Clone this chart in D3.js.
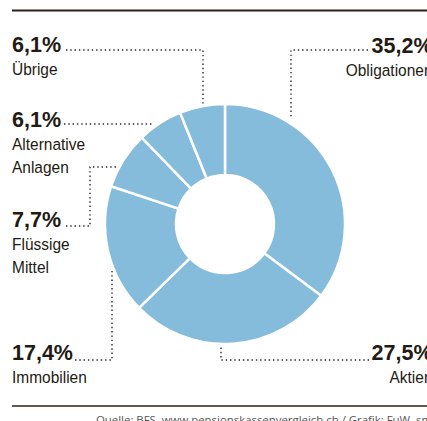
<!DOCTYPE html>
<html>
<head>
<meta charset="utf-8">
<script src="https://cdn.jsdelivr.net/npm/d3@7/dist/d3.min.js"></script>
<style>
  body { margin: 0; background: #fff; }
  svg { display: block; }
  .pct { font-family: "Liberation Sans", Arial, sans-serif; font-weight: bold; font-size: 21.5px; fill: #231a14; }
  .lbl { font-family: "Liberation Sans", Arial, sans-serif; font-size: 17px; fill: #231a14; }
  .leader { fill: none; stroke: #2e251f; stroke-width: 1.4; stroke-dasharray: 1.4,2.9; }
  .src { font-family: "Open Sans", sans-serif; font-size: 11.5px; fill: #555; }
</style>
</head>
<body>
<div id="chart"></div>
<script>
// Anteile in Prozent, im Uhrzeigersinn ab 12 Uhr
var categories = ["Obligationen", "Aktien", "Immobilien", "Flüssige Mittel", "Alternative Anlagen", "Übrige"];
var values = [35.2, 27.5, 17.4, 7.7, 6.1, 6.1];
var labelLines = [["Obligationen"], ["Aktien"], ["Immobilien"], ["Flüssige", "Mittel"], ["Alternative", "Anlagen"], ["Übrige"]];
var source = "Quelle: BFS, www.pensionskassenvergleich.ch / Grafik: FuW, sm";

var width = 427, height = 421;
var cx = 225, cy = 224, outerR = 120, innerR = 49;

// label placement: x, baseline of percentage, anchor, leader polyline
var layout = [
  {x: 432.5, y: 53, anchor: "end", leader: [[368, 50], [291, 50], [291, 118]]},
  {x: 432.5, y: 360, anchor: "end", leader: [[369, 360], [221, 360], [221, 347]]},
  {x: 12, y: 360, anchor: "start", leader: [[75, 360], [112, 360], [112, 271]]},
  {x: 12, y: 227, anchor: "start", leader: [[66, 226], [90, 226], [90, 167], [118, 167]]},
  {x: 12, y: 127, anchor: "start", leader: [[64, 124], [152, 124]]},
  {x: 12, y: 52, anchor: "start", leader: [[66, 50], [203, 50], [203, 104]]}
];

var svg = d3.select("#chart").append("svg")
  .attr("width", width)
  .attr("height", height);

// top and bottom rules
svg.append("line").attr("x1", 12).attr("x2", width).attr("y1", 10.5).attr("y2", 10.5)
  .attr("stroke", "#2a2019").attr("stroke-width", 2.2);
svg.append("line").attr("x1", 12).attr("x2", width).attr("y1", 406).attr("y2", 406)
  .attr("stroke", "#2a2019").attr("stroke-width", 1.3);

var pie = d3.pie().sort(null).value(function(d) { return d; });
var arc = d3.arc().innerRadius(innerR).outerRadius(outerR);

svg.append("g")
  .attr("transform", "translate(" + cx + "," + cy + ")")
  .selectAll("path")
  .data(pie(values))
  .enter().append("path")
  .attr("d", arc)
  .attr("fill", "#85bcdc")
  .attr("stroke", "#fff")
  .attr("stroke-width", 2.5);

var line = d3.line();

layout.forEach(function(p, i) {
  svg.append("path").attr("class", "leader").attr("d", line(p.leader));

  svg.append("text").attr("class", "pct")
    .attr("x", p.x).attr("y", p.y)
    .attr("text-anchor", p.anchor)
    .text(d3.format(".1f")(values[i]).replace(".", ",") + "%");

  // narrower, taller labels like the condensed original
  labelLines[i].forEach(function(t, j) {
    svg.append("text").attr("class", "lbl")
      .attr("transform", "translate(" + p.x + "," + (p.y + 23 + j * 23) + ") scale(0.91,1)")
      .attr("text-anchor", p.anchor)
      .text(t);
  });
});

svg.append("text").attr("class", "src")
  .attr("x", 96).attr("y", 424)
  .attr("textLength", 336)
  .attr("lengthAdjust", "spacingAndGlyphs")
  .text(source);
</script>
</body>
</html>
